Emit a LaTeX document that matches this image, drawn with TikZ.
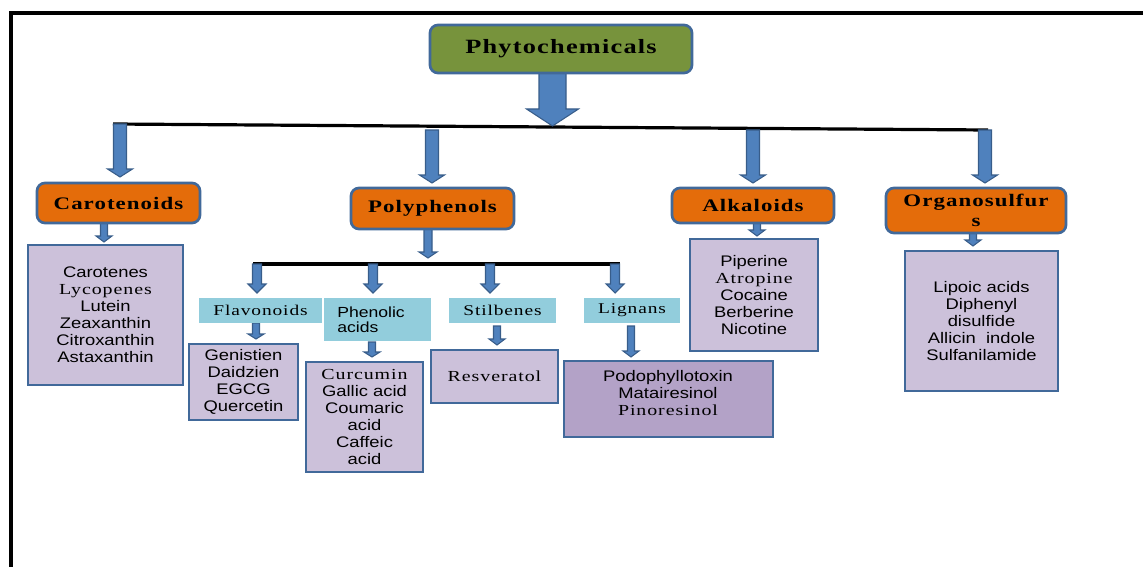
\documentclass[tikz,border=0pt]{standalone}
\usepackage{fontspec}
\setmainfont{Liberation Serif}
\newfontfamily\sfnt[FakeStretch=1.2]{Liberation Sans}
\newfontfamily\srf[FakeStretch=1.3,LetterSpace=6]{Liberation Serif}
\newfontfamily\hdf[FakeStretch=1.3,LetterSpace=6]{Liberation Serif}
\definecolor{grn}{HTML}{77933C}
\definecolor{orng}{HTML}{E46C0A}
\definecolor{bdr}{HTML}{41699A}
\definecolor{arf}{HTML}{4F81BD}
\definecolor{ard}{HTML}{385D8A}
\definecolor{pur}{HTML}{CCC1DA}
\definecolor{purdark}{HTML}{B3A2C7}
\definecolor{cyn}{HTML}{92CDDC}
\newcommand\bx[6]{\node[#1, minimum width={(#4-#2)*0.75pt}, minimum height={(#5-#3)*0.75pt}, inner sep=0pt] (#6) at ({(#2+#4)/2},{(#3+#5)/2})}
\newcommand\barrow[6]{\filldraw[arrowst] ({#1-#4},#2) -- ({#1+#4},#2) -- ({#1+#4},{#3-#6}) -- ({#1+#5},{#3-#6}) -- (#1,#3) -- ({#1-#5},{#3-#6}) -- ({#1-#4},{#3-#6}) -- cycle;}
\tikzset{
  rootbox/.style={draw=bdr, line width=2pt, fill=grn, rounded corners=6pt, font=\hdf\bfseries\fontsize{15.2}{17}\selectfont},
  catbox/.style={draw=bdr, line width=2pt, fill=orng, rounded corners=6pt, align=center, font=\hdf\bfseries\fontsize{13.2}{15}\selectfont},
  subbox/.style={fill=cyn, font=\srf\fontsize{11.2}{12.75}\selectfont},
  itembox/.style={draw=bdr, line width=2pt, fill=pur, align=center, font=\sfnt\fontsize{11.5}{12.75}\selectfont},
  itemtext/.style={align=center, inner sep=0pt, font=\sfnt\fontsize{11.5}{12.5}\selectfont},
  arrowst/.style={fill=arf, draw=ard, line width=0.8pt},
  barline/.style={draw=black, line width=2.4pt}
}
\begin{document}
\begin{tikzpicture}[x=0.75pt,y=-0.75pt]
\useasboundingbox (0,0) rectangle (1143,567);
% frame
\draw[line width=3pt] (1143,13) -- (11,13) -- (11,567);
% connecting bars
\draw[barline] (113,124) -- (988,130);
\draw[barline, line width=3pt] (253,264) -- (620,264);
% arrows
\barrow{552.5}{72}{126}{13.5}{26}{17}
\barrow{120}{124}{177}{6.5}{12.5}{8}
\barrow{432}{130}{183}{6.5}{12.5}{8}
\barrow{753}{130}{183}{6.5}{12.5}{8}
\barrow{985}{130}{183}{6.5}{12.5}{8}
\barrow{428}{229}{258}{4}{9}{6}
\barrow{257}{264}{293}{4.5}{9}{9}
\barrow{373}{264}{293}{4.5}{9}{9}
\barrow{490}{264}{293}{4.5}{9}{9}
\barrow{615}{264}{293}{4.5}{9}{9}
\barrow{104}{223}{242}{3.5}{8}{6}
\barrow{757}{223}{236}{3.5}{8}{6}
\barrow{973}{233}{246}{3.5}{8}{6}
\barrow{256}{323}{339}{3.5}{8}{5}
\barrow{372}{342}{357}{3.5}{8}{5}
\barrow{497}{326}{345}{3.5}{8}{6}
\barrow{631}{326}{357}{3.5}{8}{6}
% root
\bx{rootbox}{430}{25}{692}{73}{phyto} {Phytochemicals};
% categories
\bx{catbox}{37}{183}{200}{223}{carot} {Carotenoids};
\bx{catbox}{351}{188}{514}{229}{poly} {Polyphenols};
\bx{catbox}{672}{188}{834}{223}{alka} {Alkaloids};
\bx{catbox}{886}{188}{1066}{233}{organo} {Organosulfur\\s};
% polyphenol subclasses
\bx{subbox}{199}{298}{322}{323}{flav} {Flavonoids};
\bx{subbox}{324}{298}{431}{341}{phen} {};
\node[anchor=west, align=left, inner sep=0pt, font=\sfnt\fontsize{11}{11.25}\selectfont] (phenT) at (337,319.5) {Phenolic\\acids};
\bx{subbox}{449}{298}{556}{323}{stil} {Stilbenes};
\bx{subbox}{584}{298}{680}{323}{lign} {Lignans};
% item boxes
\bx{itembox}{28}{245}{183}{385}{carotC} {Carotenes\\{\srf Lycopenes}\\Lutein\\Zeaxanthin\\Citroxanthin\\Astaxanthin};
\bx{itembox}{189}{344}{298}{420}{flavC} {\fontsize{11.5}{12}\selectfont Genistien\\Daidzien\\EGCG\\Quercetin};
\bx{itembox}{306}{362}{423}{472}{phenC} {\fontsize{11.5}{11.6}\selectfont{\srf Curcumin}\\Gallic acid\\Coumaric\\acid\\Caffeic\\acid};
\bx{itembox}{431}{350}{558}{403}{stilC} {\srf Resveratol};
\bx{itembox, fill=purdark}{564}{361}{773}{437}{lignC} {};
\node[itemtext] (lignT) at (668,393) {Podophyllotoxin\\Matairesinol\\{\srf Pinoresinol}};
\bx{itembox}{690}{239}{818}{351}{alkaC} {Piperine\\{\srf Atropine}\\Cocaine\\Berberine\\Nicotine};
\bx{itembox}{905}{251}{1058}{391}{orgC} {Lipoic acids\\Diphenyl\\disulfide\\Allicin\ \ indole\\Sulfanilamide};
\end{tikzpicture}
\end{document}
